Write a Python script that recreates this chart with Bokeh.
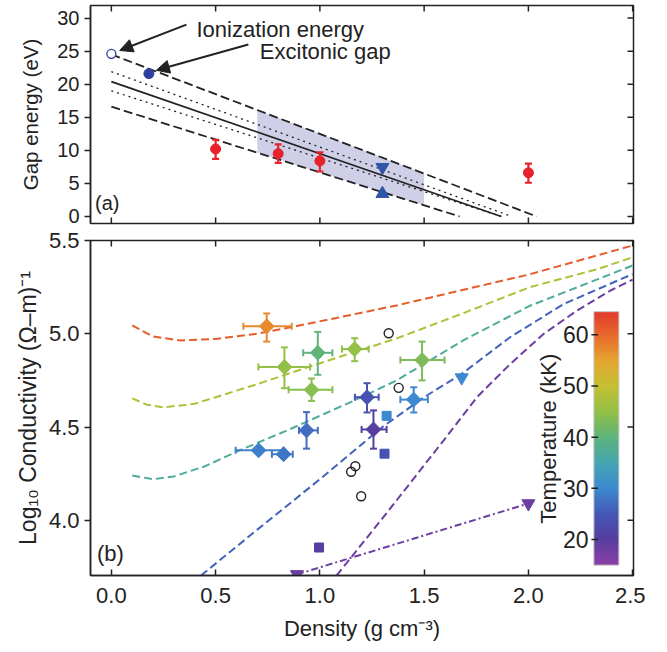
import numpy as np
from bokeh.plotting import figure
from bokeh.models import (Range1d, FixedTicker, PrintfTickFormatter, Arrow,
                          NormalHead, LinearColorMapper, Label)
from bokeh.layouts import column
from bokeh.embed import file_html
from bokeh.resources import INLINE
from bokeh.core.properties import value

FONT = "Liberation Sans"
INK = "#222222"

# ---------------- panel (a) data ----------------
ion_x = [0.0]
ion_y = [24.6]
exc_x = [0.18]
exc_y = [21.6]
upper_dash_x = [0.0, 2.04]
upper_dash_y = [24.5, 0.0]
lower_dash_x = [0.0, 1.67]
lower_dash_y = [16.6, 0.0]
solid_x = [0.0, 1.87]
solid_y = [20.4, 0.0]
dot_hi_x = [0.0, 1.92]
dot_hi_y = [21.9, 0.0]
dot_lo_x = [0.0, 1.87]
dot_lo_y = [19.0, 0.0]
band_x = [0.7, 1.5]
red_x = [0.5, 0.8, 1.0, 2.0]
red_y = [10.2, 9.5, 8.4, 6.6]
red_lo = [8.7, 8.1, 6.8, 5.1]
red_hi = [11.6, 10.9, 9.7, 8.0]
tri_dn_x = [1.3]
tri_dn_y = [7.45]
tri_up_x = [1.3]
tri_up_y = [3.45]
gap_ticks = [0, 5, 10, 15, 20, 25, 30]

# ---------------- panel (b) data ----------------
curve_T = [61, 48, 37, 26, 18]
curve_x = [
    [0.1, 0.2, 0.33, 0.5, 0.7, 0.86, 1.08, 1.368, 2.0, 2.5],
    [0.1, 0.17, 0.25, 0.4, 0.5, 0.7, 0.86, 1.16, 1.368, 1.687, 2.007, 2.327, 2.5],
    [0.1, 0.2, 0.3, 0.45, 0.615, 0.835, 1.02, 1.2, 1.368, 1.687, 2.007, 2.327, 2.5],
    [0.43, 0.7, 1.0, 1.3, 1.5, 1.68, 1.91, 2.17, 2.5],
    [1.08, 1.3, 1.594, 1.754, 1.914, 2.074, 2.234, 2.394, 2.5],
]
curve_y = [
    [5.045, 4.985, 4.964, 4.972, 5.0, 5.035, 5.085, 5.152, 5.317, 5.473],
    [4.654, 4.62, 4.605, 4.625, 4.66, 4.73, 4.79, 4.90, 4.975, 5.11, 5.25, 5.345, 5.41],
    [4.24, 4.22, 4.235, 4.29, 4.375, 4.478, 4.57, 4.66, 4.75, 4.964, 5.15, 5.29, 5.366],
    [3.704, 3.95, 4.22, 4.50, 4.66, 4.785, 4.98, 5.16, 5.32],
    [3.704, 4.01, 4.429, 4.661, 4.839, 5.0, 5.125, 5.232, 5.29],
]
dd_x = [0.89, 2.0]
dd_y = [3.71, 4.09]
dd_T = [18, 18]

dia_x = [0.745, 0.83, 0.99, 0.96, 1.167, 1.49, 1.226, 1.45, 0.936, 0.706, 0.826, 1.257]
dia_y = [5.04, 4.822, 4.898, 4.70, 4.918, 4.859, 4.66, 4.647, 4.482, 4.375, 4.354, 4.487]
dia_xlo = [0.633, 0.705, 0.92, 0.85, 1.106, 1.386, 1.168, 1.386, 0.90, 0.596, 0.77, 1.20]
dia_xhi = [0.865, 0.953, 1.06, 1.06, 1.234, 1.598, 1.282, 1.518, 0.99, 0.826, 0.87, 1.32]
dia_ylo = [4.958, 4.708, 4.78, 4.64, 4.853, 4.75, 4.578, 4.578, 4.384, 4.375, 4.354, 4.384]
dia_yhi = [5.109, 4.927, 5.01, 4.76, 4.976, 4.958, 4.735, 4.713, 4.58, 4.375, 4.354, 4.589]
dia_T = [57, 45, 40, 44, 45, 43, 24, 30, 27, 29, 28, 20]

sq_x = [1.32, 1.31, 0.996]
sq_y = [4.56, 4.357, 3.854]
sq_T = [30, 24, 20]

tri_x = [1.68, 0.89, 2.0]
tri_y = [4.765, 3.71, 4.09]
tri_T = [30, 18, 18]

oc_x = [1.33, 1.378, 1.15, 1.17, 1.198]
oc_y = [5.003, 4.710, 4.26, 4.29, 4.129]

cond_ticks = [4.0, 4.5, 5.0, 5.5]
dens_ticks = [0, 0.5, 1.0, 1.5, 2.0, 2.5]
cb_ticks = [20, 30, 40, 50, 60]

# ---------------- colour map ----------------
anchor_T = [15, 20, 25, 30, 35, 40, 45, 50, 55, 60, 65]
anchor_c = ["#8a3fa6", "#553ea0", "#4458b6", "#3c8ad0", "#45a6b0", "#5fb47a",
            "#93c046", "#c6c032", "#e6a42e", "#e8682c", "#e0362c"]
T_LO, T_HI = 15, 65


def _rgb(h):
    return [int(h[i:i + 2], 16) for i in (1, 3, 5)]


_anc = np.array([_rgb(c) for c in anchor_c], dtype=float)
_grid = np.linspace(T_LO, T_HI, 256)
palette = []
for t in _grid:
    r, g, b = (np.interp(t, anchor_T, _anc[:, k]) for k in range(3))
    palette.append("#%02x%02x%02x" % (int(round(r)), int(round(g)), int(round(b))))


def tcol(t):
    i = int(round((t - T_LO) / (T_HI - T_LO) * 255))
    return palette[max(0, min(255, i))]


mapper = LinearColorMapper(palette=palette, low=T_LO, high=T_HI)

XR = (-0.1, 2.504)
xr = Range1d(*XR)
TICK_PX = 6.0
FRAME_W = 543
LEFT_B = 90


def style_axis(ax, size):
    ax.axis_line_color = INK
    ax.axis_line_width = 1.5
    ax.major_tick_line_color = INK
    ax.major_tick_line_width = 1.5
    ax.minor_tick_line_color = None
    ax.major_label_text_font = FONT
    ax.major_label_text_font_size = size
    ax.major_label_text_color = INK
    ax.axis_label_text_font = FONT
    ax.axis_label_text_font_style = "normal"
    ax.axis_label_text_color = INK


def inner_ticks(p, yr, frame_h, yticks, bottom_too):
    """tick marks pointing inward on the top, right (and bottom) frame edges"""
    dx = TICK_PX * (XR[1] - XR[0]) / FRAME_W
    dy = TICK_PX * (yr[1] - yr[0]) / frame_h
    n = len(dens_ticks)
    p.segment(x0=dens_ticks, x1=dens_ticks, y0=[yr[1]] * n, y1=[yr[1] - dy] * n,
              line_color=INK, line_width=1.5)
    if bottom_too:
        p.segment(x0=dens_ticks, x1=dens_ticks, y0=[yr[0]] * n, y1=[yr[0] + dy] * n,
                  line_color=INK, line_width=1.5)
    m = len(yticks)
    p.segment(x0=[XR[1]] * m, x1=[XR[1] - dx] * m, y0=yticks, y1=yticks,
              line_color=INK, line_width=1.5)


def base_fig(p):
    p.grid.visible = False
    p.outline_line_color = INK
    p.outline_line_width = 1.5
    p.background_fill_color = "white"
    p.border_fill_color = "white"


# ================= panel (a) =================
YR1 = (-1.06, 31.9)
FH1 = 218
p1 = figure(frame_width=FRAME_W, frame_height=FH1, x_range=xr, y_range=Range1d(*YR1),
            output_backend="svg", toolbar_location=None, x_axis_location=None,
            min_border_left=LEFT_B, min_border_right=12, min_border_top=5, min_border_bottom=5)
base_fig(p1)
ay1 = p1.left[0]
style_axis(ay1, "20px")
ay1.ticker = FixedTicker(ticks=gap_ticks)
ay1.major_tick_in = 0
ay1.major_tick_out = 6
ay1.major_label_standoff = 5
ay1.axis_label = "Gap energy (eV)"
ay1.axis_label_text_font_size = "20.5px"
ay1.axis_label_standoff = 12
inner_ticks(p1, YR1, FH1, gap_ticks, bottom_too=True)

band_top = np.interp(band_x, upper_dash_x, upper_dash_y)
band_bot = np.interp(band_x, lower_dash_x, lower_dash_y)
p1.patch(x=[band_x[0], band_x[1], band_x[1], band_x[0]],
         y=[band_top[0], band_top[1], band_bot[1], band_bot[0]],
         fill_color="#cfd0e8", line_color=None)

p1.line(upper_dash_x, upper_dash_y, line_color=INK, line_width=1.8, line_dash="9 4")
p1.line(lower_dash_x, lower_dash_y, line_color=INK, line_width=1.8, line_dash="9 4")
p1.line(solid_x, solid_y, line_color=INK, line_width=1.8)
p1.line(dot_hi_x, dot_hi_y, line_color=INK, line_width=1.3, line_dash="2 4")
p1.line(dot_lo_x, dot_lo_y, line_color=INK, line_width=1.3, line_dash="2 4")

RED = "#e8222a"
p1.segment(x0=red_x, y0=red_lo, x1=red_x, y1=red_hi, line_color=RED, line_width=2.2)
p1.scatter(x=red_x + red_x, y=red_lo + red_hi, marker="dash", size=7, line_color=RED, line_width=2.2)
p1.scatter(x=red_x, y=red_y, marker="circle", size=10, fill_color=RED, line_color=RED)

NAVY = "#2f3f9e"
p1.scatter(x=tri_dn_x, y=tri_dn_y, marker="inverted_triangle", size=13, fill_color="#2f55a8", line_color="#2f55a8")
p1.scatter(x=tri_up_x, y=tri_up_y, marker="triangle", size=13, fill_color="#2f55a8", line_color="#2f55a8")
p1.scatter(x=exc_x, y=exc_y, marker="circle", size=10, fill_color=NAVY, line_color=NAVY)
p1.scatter(x=ion_x, y=ion_y, marker="circle", size=9, fill_color="white", line_color=NAVY, line_width=1.3)

p1.add_layout(Arrow(end=NormalHead(size=13, fill_color=INK, line_color=INK),
                    x_start=0.36, y_start=29.0, x_end=0.04, y_end=25.1,
                    line_color=INK, line_width=2))
p1.add_layout(Arrow(end=NormalHead(size=13, fill_color=INK, line_color=INK),
                    x_start=0.657, y_start=26.0, x_end=0.216, y_end=22.1,
                    line_color=INK, line_width=2))
p1.add_layout(Label(x=0.408, y=28.25, text="Ionization energy", text_font=FONT,
                    text_font_size="22px", text_color=INK, text_baseline="alphabetic"))
p1.add_layout(Label(x=0.712, y=24.95, text="Excitonic gap", text_font=FONT,
                    text_font_size="22px", text_color=INK, text_baseline="alphabetic"))
p1.add_layout(Label(x=-0.078, y=2.1, text="(a)", text_font=FONT, text_font_size="20px",
                    text_color=INK, text_baseline="middle"))

# ================= panel (b) =================
YR2 = (3.704, 5.5)
FH2 = 335
p2 = figure(frame_width=FRAME_W, frame_height=FH2, x_range=xr, y_range=Range1d(*YR2),
            output_backend="svg", toolbar_location=None,
            min_border_left=LEFT_B, min_border_right=12, min_border_top=12, min_border_bottom=65)
base_fig(p2)
p2.extra_y_ranges = {"temp": Range1d(12.98, 78.4)}
ay2 = p2.left[0]
ax2 = p2.below[0]
style_axis(ay2, "22px")
style_axis(ax2, "22px")
ay2.ticker = FixedTicker(ticks=cond_ticks)
ay2.formatter = PrintfTickFormatter(format="%.1f")
ay2.major_tick_in = 0
ay2.major_tick_out = 6
ay2.major_label_standoff = 5
ay2.axis_label = "Log\u2081\u2080 Conductivity (\u03a9\u2013m)\u207b\u00b9"
ay2.axis_label_text_font_size = "23px"
ay2.axis_label_standoff = 5
ax2.ticker = FixedTicker(ticks=dens_ticks)
ax2.formatter = PrintfTickFormatter(format="%.1f")
ax2.major_tick_in = 6
ax2.major_tick_out = 0
ax2.major_label_standoff = 12
ax2.axis_label = "Density (g cm\u207b\u00b3)"
ax2.axis_label_text_font_size = "22px"
ax2.axis_label_standoff = 10
inner_ticks(p2, YR2, FH2, cond_ticks, bottom_too=False)

for cx, cy, ct in zip(curve_x, curve_y, curve_T):
    p2.line(cx, cy, line_color=tcol(ct), line_width=2, line_dash="8 4")
p2.line(dd_x, dd_y, line_color=tcol(dd_T[0]), line_width=2, line_dash="7 3 2 3")

tfield = {"field": "T", "transform": mapper}
bars = dict(x=dia_x, y=dia_y, xlo=dia_xlo, xhi=dia_xhi, ylo=dia_ylo, yhi=dia_yhi, T=dia_T)
p2.segment(x0="xlo", y0="y", x1="xhi", y1="y", source=bars, line_color=tfield, line_width=2)
p2.segment(x0="x", y0="ylo", x1="x", y1="yhi", source=bars, line_color=tfield, line_width=2)
p2.scatter(x="x", y="ylo", source=bars, marker="dash", size=7, line_color=tfield, line_width=2)
p2.scatter(x="x", y="yhi", source=bars, marker="dash", size=7, line_color=tfield, line_width=2)
p2.scatter(x="xlo", y="y", source=bars, marker="dash", angle=np.pi / 2, size=7, line_color=tfield, line_width=2)
p2.scatter(x="xhi", y="y", source=bars, marker="dash", angle=np.pi / 2, size=7, line_color=tfield, line_width=2)
p2.scatter(x="x", y="y", source=bars, marker="square", angle=np.pi / 4, size=10.5,
           fill_color=tfield, line_color=tfield)

p2.scatter(x=sq_x, y=sq_y, marker="square", size=9, fill_color=[tcol(t) for t in sq_T],
           line_color=[tcol(t) for t in sq_T])
p2.scatter(x=tri_x, y=tri_y, marker="inverted_triangle", size=13,
           fill_color=[tcol(t) for t in tri_T], line_color=[tcol(t) for t in tri_T])
p2.scatter(x=oc_x, y=oc_y, marker="circle", size=9, fill_color=None, line_color=INK, line_width=1.4)

p2.add_layout(Label(x=-0.069, y=3.823, text="(b)", text_font=FONT, text_font_size="22px",
                    text_color=INK, text_baseline="middle"))

# colour bar drawn inside the frame
cb_ramp = np.linspace(15, 64.5, 256).reshape(-1, 1)
p2.image(image=[cb_ramp], x=2.314, y=15, dw=0.12, dh=49.5, color_mapper=mapper,
         y_range_name="temp")
p2.quad(left=2.314, right=2.434, bottom=15, top=64.5, fill_color=None,
        line_color="#c8c8c8", line_width=1, y_range_name="temp")
p2.segment(x0=[2.302] * len(cb_ticks), x1=[2.334] * len(cb_ticks), y0=cb_ticks, y1=cb_ticks,
           line_color=INK, line_width=1.5, y_range_name="temp")
p2.text(x=[2.288] * len(cb_ticks), y=cb_ticks, text=[str(t) for t in cb_ticks],
        text_font=value(FONT), text_font_size="23px", text_color=INK,
        text_align="right", text_baseline="middle", y_range_name="temp")
p2.text(x=[2.095], y=[39.7], text=["Temperature (kK)"], angle=np.pi / 2,
        text_font=value(FONT), text_font_size="22px", text_color=INK,
        text_align="center", text_baseline="middle", y_range_name="temp")

layout = column(p1, p2, spacing=0)
open("out.html", "w").write(file_html(layout, INLINE))
